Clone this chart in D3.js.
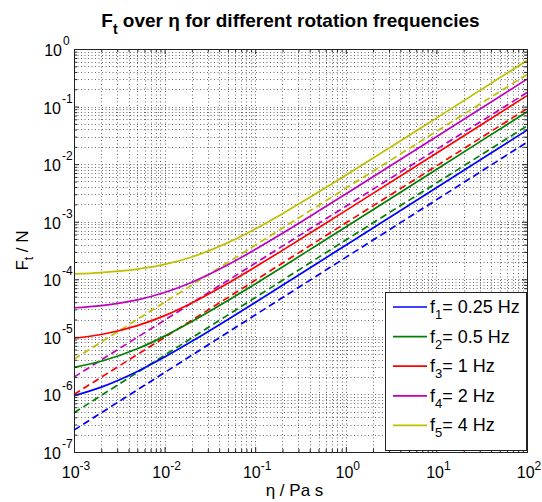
<!DOCTYPE html>
<html>
<head>
<meta charset="utf-8">
<script src="https://cdn.jsdelivr.net/npm/d3@7"></script>
<style>
  body { margin: 0; background: #fff; }
  text { font-family: "Liberation Sans", Arial, sans-serif; }
</style>
</head>
<body>
<svg id="chart" width="542" height="502"></svg>
<script>
// axis decades
var etaMajor = [1e-3, 1e-2, 1e-1, 1, 10, 100];
var etaExp = ["-3", "-2", "-1", "0", "1", "2"];
var ftMajor = [1e-7, 1e-6, 1e-5, 1e-4, 1e-3, 1e-2, 1e-1, 1];
var ftExp = ["-7", "-6", "-5", "-4", "-3", "-2", "-1", "0"];

// legend
var freqIndex = ["1", "2", "3", "4", "5"];
var freqLabels = ["0.25", "0.5", "1", "2", "4"];
var colors = ["#0000ff", "#008000", "#ff0000", "#bf00bf", "#bfbf00"];

// solid curves (total force)
var etaSolid = [1e-3, 2e-3, 5e-3, 1e-2, 2e-2, 5e-2, 1e-1, 2e-1, 5e-1, 1, 10, 100];
var ftSolid1 = [9.5e-7, 1.34e-6, 2.51e-6, 4.46e-6, 8.36e-6, 2.01e-5, 3.96e-5, 7.86e-5, 1.96e-4, 3.9e-4, 3.9e-3, 3.9e-2];
var ftSolid2 = [2.96e-6, 3.77e-6, 6.2e-6, 1.03e-5, 1.84e-5, 4.27e-5, 8.3e-5, 1.64e-4, 4.07e-4, 8.1e-4, 8.1e-3, 8.1e-2];
var ftSolid3 = [9.45e-6, 1.1e-5, 1.57e-5, 2.34e-5, 3.89e-5, 8.54e-5, 1.63e-4, 3.18e-4, 7.83e-4, 1.56e-3, 1.55e-2, 0.155];
var ftSolid4 = [3.2e-5, 3.5e-5, 4.4e-5, 5.9e-5, 8.9e-5, 1.79e-4, 3.29e-4, 6.29e-4, 1.53e-3, 3.03e-3, 3.0e-2, 0.30];
var ftSolid5 = [1.24e-4, 1.31e-4, 1.5e-4, 1.81e-4, 2.44e-4, 4.33e-4, 7.48e-4, 1.38e-3, 3.27e-3, 6.42e-3, 6.3e-2, 0.63];

// dashed curves (viscous part)
var etaDashed = [1e-3, 1e-2, 1e-1, 1, 10, 100];
var ftDashed1 = [2.4e-7, 2.4e-6, 2.4e-5, 2.4e-4, 2.4e-3, 2.4e-2];
var ftDashed2 = [4.8e-7, 4.8e-6, 4.8e-5, 4.8e-4, 4.7e-3, 4.6e-2];
var ftDashed3 = [1.0e-6, 9.8e-6, 9.6e-5, 9.5e-4, 9.3e-3, 9.2e-2];
var ftDashed4 = [2.0e-6, 1.95e-5, 1.9e-4, 1.85e-3, 1.8e-2, 0.175];
var ftDashed5 = [4.1e-6, 4.0e-5, 3.9e-4, 3.8e-3, 3.7e-2, 0.36];

var solids = [ftSolid1, ftSolid2, ftSolid3, ftSolid4, ftSolid5];
var dashes = [ftDashed1, ftDashed2, ftDashed3, ftDashed4, ftDashed5];

var pL = 74, pR = 527, pT = 49, pB = 452;

var svg = d3.select("#chart");
var x = d3.scaleLog().domain([1e-3, 100]).range([pL, pR]);
var y = d3.scaleLog().domain([1e-7, 1]).range([pB, pT]);

var isMajor = function(v) { return Math.abs(Math.log10(v) - Math.round(Math.log10(v))) < 1e-9; };
var xAll = x.ticks(), yAll = y.ticks();
var xMinor = xAll.filter(function(v) { return !isMajor(v); });
var yMinor = yAll.filter(function(v) { return !isMajor(v); });

// dotted grid, major and minor
var grid = svg.append("g")
    .attr("stroke", "#444")
    .attr("stroke-width", 0.8)
    .attr("stroke-dasharray", "1,2.5");
grid.selectAll(".gx").data(xAll).enter().append("line")
    .attr("x1", function(d) { return Math.round(x(d)) + 0.5; })
    .attr("x2", function(d) { return Math.round(x(d)) + 0.5; })
    .attr("y1", pT).attr("y2", pB);
grid.selectAll(".gy").data(yAll).enter().append("line")
    .attr("y1", function(d) { return Math.round(y(d)) + 0.5; })
    .attr("y2", function(d) { return Math.round(y(d)) + 0.5; })
    .attr("x1", pL).attr("x2", pR);

// curves
var line = d3.line()
    .x(function(d) { return x(d[0]); })
    .y(function(d) { return y(d[1]); })
    .curve(d3.curveMonotoneX);

var plot = svg.append("g");
dashes.forEach(function(vals, i) {
  plot.append("path")
      .attr("d", line(d3.zip(etaDashed, vals)))
      .attr("fill", "none")
      .attr("stroke", colors[i])
      .attr("stroke-width", 1.7)
      .attr("stroke-dasharray", "7,4");
});
solids.forEach(function(vals, i) {
  plot.append("path")
      .attr("d", line(d3.zip(etaSolid, vals)))
      .attr("fill", "none")
      .attr("stroke", colors[i])
      .attr("stroke-width", 1.7);
});

// ticks inside on all four sides
function ticks(axis, vals, len, tr) {
  svg.append("g")
      .attr("transform", tr)
      .call(axis.tickValues(vals).tickSize(-len).tickFormat(""))
      .call(function(g) { g.select(".domain").remove(); })
      .selectAll("line").attr("stroke", "#222");
}
ticks(d3.axisBottom(x), etaMajor, 5, "translate(0," + pB + ")");
ticks(d3.axisBottom(x), xMinor, 3, "translate(0," + pB + ")");
ticks(d3.axisTop(x), etaMajor, 5, "translate(0," + pT + ")");
ticks(d3.axisTop(x), xMinor, 3, "translate(0," + pT + ")");
ticks(d3.axisLeft(y), ftMajor, 5, "translate(" + pL + ",0)");
ticks(d3.axisLeft(y), yMinor, 3, "translate(" + pL + ",0)");
ticks(d3.axisRight(y), ftMajor, 5, "translate(" + pR + ",0)");
ticks(d3.axisRight(y), yMinor, 3, "translate(" + pR + ",0)");

svg.append("rect")
    .attr("x", pL + 0.5).attr("y", pT + 0.5)
    .attr("width", pR - pL).attr("height", pB - pT)
    .attr("fill", "none").attr("stroke", "#222");

// tick labels: 10 with raised exponent
var xl = svg.append("g").selectAll("text").data(etaMajor).enter().append("text")
    .attr("x", function(d) { return x(d) + 2; })
    .attr("y", pB + 26)
    .attr("text-anchor", "middle")
    .attr("font-size", 16);
xl.append("tspan").text("10");
xl.append("tspan").attr("dy", -8).attr("font-size", 12)
    .text(function(d, i) { return etaExp[i]; });

svg.append("g").selectAll("text").data(ftMajor).enter().append("text")
    .attr("x", function(d, i) { return ftExp[i].length > 1 ? 61 : 62; })
    .attr("y", function(d) { return y(d) + 7; })
    .attr("text-anchor", "end")
    .attr("font-size", 16)
    .text("10");
svg.append("g").selectAll("text").data(ftMajor).enter().append("text")
    .attr("x", function(d, i) { return ftExp[i].length > 1 ? 62 : 63; })
    .attr("y", function(d) { return y(d) - 4; })
    .attr("font-size", 12)
    .text(function(d, i) { return ftExp[i]; });

// title
var title = svg.append("text")
    .attr("x", (pL + pR) / 2 - 10).attr("y", 27)
    .attr("text-anchor", "middle")
    .attr("font-size", 19).attr("font-weight", "bold");
title.append("tspan").text("F");
title.append("tspan").attr("dy", 7).attr("font-size", 14).text("t");
title.append("tspan").attr("dy", -7).text(" over \u03b7 for different rotation frequencies");

// axis titles
svg.append("text")
    .attr("x", (pL + pR) / 2 - 6).attr("y", 496)
    .attr("text-anchor", "middle")
    .attr("font-size", 17)
    .text("\u03b7 / Pa s");

var yt = svg.append("text")
    .attr("transform", "translate(28," + ((pT + pB) / 2) + ") rotate(-90)")
    .attr("text-anchor", "middle")
    .attr("font-size", 17);
yt.append("tspan").text("F");
yt.append("tspan").attr("dy", 5).attr("font-size", 12).text("t");
yt.append("tspan").attr("dy", -5).text(" / N");

// legend
var lg = svg.append("g").attr("transform", "translate(385,292)");
lg.append("rect")
    .attr("x", 0.5).attr("y", 0.5)
    .attr("width", 141).attr("height", 158)
    .attr("fill", "#fff").attr("stroke", "#222");
var row = lg.selectAll(".row").data(freqLabels).enter().append("g")
    .attr("transform", function(d, i) { return "translate(0," + (15 + i * 29.6) + ")"; });
row.append("line")
    .attr("x1", 8).attr("x2", 42)
    .attr("stroke", function(d, i) { return colors[i]; })
    .attr("stroke-width", 1.7);
var lt = row.append("text").attr("x", 45).attr("y", 6).attr("font-size", 18);
lt.append("tspan").text("f");
lt.append("tspan").attr("dy", 6).attr("font-size", 13).text(function(d, i) { return freqIndex[i]; });
lt.append("tspan").attr("dy", -6).text(function(d) { return "= " + d + " Hz"; });
</script>
</body>
</html>
